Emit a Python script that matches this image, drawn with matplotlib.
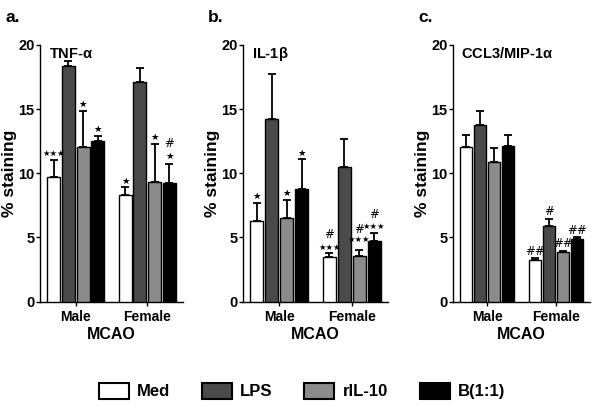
import matplotlib
matplotlib.use('Agg')
import numpy as np
import matplotlib.pyplot as plt
from matplotlib.patches import Patch

plt.rcParams['font.family'] = ['Liberation Sans', 'DejaVu Sans']
plt.rcParams['font.weight'] = 'bold'

# data
groups = ['Male', 'Female']
treatments = ['Med', 'LPS', 'rIL-10', 'B(1:1)']

# TNF-alpha
tnf_mean = [[9.7, 18.4, 12.05, 12.5], [8.3, 17.1, 9.3, 9.25]]
tnf_err = [[1.35, 0.35, 2.8, 0.4], [0.65, 1.1, 3.0, 1.45]]
# IL-1beta
il1_mean = [[6.25, 14.2, 6.5, 8.75], [3.45, 10.45, 3.55, 4.7]]
il1_err = [[1.45, 3.5, 1.45, 2.35], [0.35, 2.25, 0.5, 0.65]]
# CCL3/MIP-1alpha
ccl3_mean = [[12.05, 13.75, 10.9, 12.15], [3.25, 5.9, 3.85, 4.85]]
ccl3_err = [[0.9, 1.1, 1.1, 0.8], [0.12, 0.57, 0.12, 0.2]]

# significance marks: (group, treatment, y, text)
tnf_marks = [(0, 0, 11.55, '★★★'), (0, 2, 15.35, '★'), (0, 3, 13.45, '★'),
             (1, 0, 9.35, '★'), (1, 2, 12.8, '★'), (1, 3, 11.3, '★'), (1, 3, 12.35, '#')]
il1_marks = [(0, 0, 8.2, '★'), (0, 2, 8.45, '★'), (0, 3, 11.55, '★'),
             (1, 0, 4.2, '★★★'), (1, 0, 5.2, '#'), (1, 2, 4.8, '★★★'), (1, 2, 5.65, '#'),
             (1, 3, 5.85, '★★★'), (1, 3, 6.75, '#')]
ccl3_marks = [(1, 0, 3.9, '##'), (1, 1, 7.0, '#'), (1, 2, 4.5, '##'), (1, 3, 5.55, '##')]

colors = ['white', '#4a4a4a', '#8c8c8c', 'black']

panels = [
    ('a.', 'TNF-$\\mathregular{\\alpha}$', tnf_mean, tnf_err, tnf_marks, [40, 143]),
    ('b.', 'IL-1$\\mathregular{\\beta}$', il1_mean, il1_err, il1_marks, [243, 145]),
    ('c.', 'CCL3/MIP-1$\\mathregular{\\alpha}$', ccl3_mean, ccl3_err, ccl3_marks, [453, 137]),
]

W, H = 600, 408
fig = plt.figure(figsize=(6, 4.08), dpi=100)

pitch = 0.205
width = 0.18
offsets = (np.arange(4) - 1.5) * pitch
gx = np.arange(len(groups))

for letter, title, mean, err, marks, (px, pw) in panels:
    ax = fig.add_axes([px / W, (H - 301.5) / H, pw / W, 256.5 / H])
    mean = np.array(mean)
    err = np.array(err)
    for t in range(4):
        xs = gx + offsets[t]
        ax.errorbar(xs, mean[:, t], yerr=[np.zeros(2), err[:, t]], fmt='none',
                    ecolor='black', elinewidth=1.3, capsize=3.2, capthick=1.3, zorder=2)
        ax.bar(xs, mean[:, t], width, color=colors[t], edgecolor='black',
               linewidth=1.0, zorder=3)
    for g, t, y, s in marks:
        if '#' in s:
            size = 8.5
        elif len(s) == 3:
            size = 6.0
        else:
            size = 6.8
        ax.text(gx[g] + offsets[t], y, s, ha='center', va='center', fontsize=size,
                family=['DejaVu Sans'], fontweight='normal')
    ax.set_xlim(-0.5, 1.5)
    ax.set_ylim(0, 20)
    ax.set_yticks([0, 5, 10, 15, 20])
    ax.set_xticks(gx)
    ax.set_xticklabels(groups, fontsize=10, fontweight='bold')
    for lab in ax.get_yticklabels():
        lab.set_fontsize(10.5)
        lab.set_fontweight('bold')
    ax.tick_params(direction='out', length=3, width=1, pad=1)
    ax.tick_params(axis='x', pad=3)
    ax.spines['top'].set_visible(False)
    ax.spines['right'].set_visible(False)
    ax.spines['left'].set_linewidth(1)
    ax.spines['bottom'].set_linewidth(1)
    ax.set_ylabel('% staining', fontsize=12.5, fontweight='bold', labelpad=1)
    ax.set_xlabel('MCAO', fontsize=11.5, fontweight='bold', labelpad=2)
    ax.text(0.06, 0.965, title, transform=ax.transAxes, ha='left', va='center',
            fontsize=10.5, fontweight='bold')
    fig.text((px - 35) / W, 1 - 17 / H, letter, fontsize=12.5, fontweight='bold',
             ha='left', va='center')

handles = [Patch(facecolor=c, edgecolor='black', linewidth=1.5) for c in colors]
fig.legend(handles, treatments, loc='center', bbox_to_anchor=(302 / W, 17 / H),
           ncol=4, frameon=False, handlelength=1.8, handleheight=1.1,
           handletextpad=0.5, columnspacing=1.9, prop={'weight': 'bold', 'size': 12})

fig.savefig('out.png', dpi=100)
